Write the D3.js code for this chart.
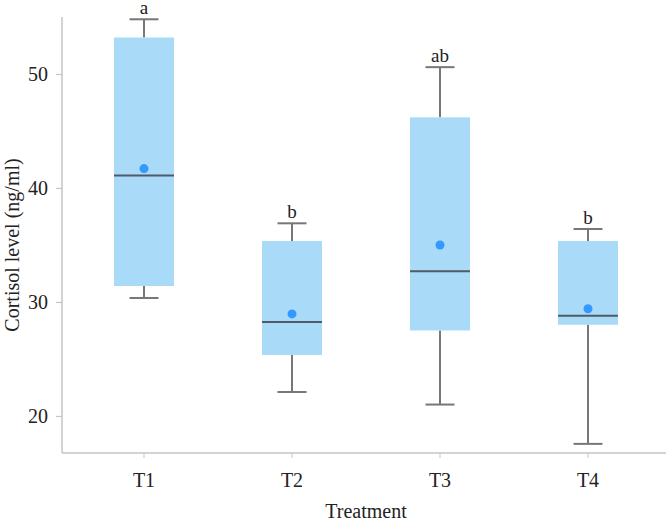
<!DOCTYPE html>
<html>
<head>
<meta charset="utf-8">
<script src="https://cdn.jsdelivr.net/npm/d3@7"></script>
<style>
  html, body { margin: 0; padding: 0; background: #fff; }
  svg { display: block; }
  text { font-family: "Liberation Serif", "Times New Roman", serif; fill: #222; }
</style>
</head>
<body>
<svg id="chart" width="666" height="521"></svg>
<script>
const categories = ["T1", "T2", "T3", "T4"];
const minVals    = [30.35, 22.1, 21.0, 17.55];
const q1Vals     = [31.4, 25.35, 27.5, 28.0];
const medianVals = [41.1, 28.25, 32.7, 28.8];
const q3Vals     = [53.2, 35.35, 46.2, 35.35];
const maxVals    = [54.8, 36.9, 50.6, 36.4];
const meanVals   = [41.7, 28.95, 35.0, 29.4];
const groupLetters = ["a", "b", "ab", "b"];
const yTicks = [20, 30, 40, 50];

const svg = d3.select("#chart");

const x = d3.scaleBand().domain(categories).range([70, 662]).paddingInner(0).paddingOuter(0);
const y = d3.scaleLinear().domain([16.75, 55]).range([453, 17]);

const boxW = 60, capW = 29;
const lineCol = "#777777";

const data = categories.map((c, i) => ({
  cat: c, min: minVals[i], q1: q1Vals[i], med: medianVals[i],
  q3: q3Vals[i], max: maxVals[i], mean: meanVals[i], letter: groupLetters[i]
}));

// Axes
const yAxis = d3.axisLeft(y).tickValues(yTicks).tickSize(6).tickPadding(8).tickFormat(d3.format("d"));
const gy = svg.append("g").attr("transform", "translate(62,0)").call(yAxis);
gy.select(".domain").remove();
gy.selectAll(".tick line").attr("stroke", "#c4c4c4").attr("stroke-width", 1.2);
gy.selectAll(".tick text").attr("font-size", 20).attr("font-family", "Liberation Serif").attr("fill", "#222");
svg.append("line").attr("x1", 62).attr("x2", 62).attr("y1", y.range()[1]).attr("y2", y.range()[0])
  .attr("stroke", "#c4c4c4").attr("stroke-width", 1.5);

const xAxis = d3.axisBottom(x).tickSize(5).tickPadding(15);
const gx = svg.append("g").attr("transform", "translate(0,453)").call(xAxis);
gx.select(".domain").remove();
gx.selectAll(".tick line").attr("stroke", "#d0d0d0").attr("stroke-width", 1.2);
gx.selectAll(".tick text").attr("font-size", 20).attr("font-family", "Liberation Serif").attr("fill", "#222");
svg.append("line").attr("x1", 62).attr("x2", 666).attr("y1", 453).attr("y2", 453)
  .attr("stroke", "#c4c4c4").attr("stroke-width", 1.5);

// Boxes
const g = svg.append("g").selectAll("g.box").data(data).join("g").attr("class", "box");
const cx = d => x(d.cat) + x.bandwidth() / 2;

g.append("line").attr("x1", cx).attr("x2", cx).attr("y1", d => y(d.max)).attr("y2", d => y(d.q3))
  .attr("stroke", lineCol).attr("stroke-width", 2);
g.append("line").attr("x1", cx).attr("x2", cx).attr("y1", d => y(d.q1)).attr("y2", d => y(d.min))
  .attr("stroke", lineCol).attr("stroke-width", 2);
g.append("line").attr("x1", d => cx(d) - capW / 2).attr("x2", d => cx(d) + capW / 2)
  .attr("y1", d => y(d.max)).attr("y2", d => y(d.max)).attr("stroke", lineCol).attr("stroke-width", 2);
g.append("line").attr("x1", d => cx(d) - capW / 2).attr("x2", d => cx(d) + capW / 2)
  .attr("y1", d => y(d.min)).attr("y2", d => y(d.min)).attr("stroke", lineCol).attr("stroke-width", 2);

g.append("rect").attr("x", d => cx(d) - boxW / 2).attr("width", boxW)
  .attr("y", d => y(d.q3)).attr("height", d => y(d.q1) - y(d.q3))
  .attr("fill", "#a9dbf8");

g.append("line").attr("x1", d => cx(d) - boxW / 2).attr("x2", d => cx(d) + boxW / 2)
  .attr("y1", d => y(d.med)).attr("y2", d => y(d.med)).attr("stroke", "#4f5b66").attr("stroke-width", 2);

g.append("circle").attr("cx", cx).attr("cy", d => y(d.mean)).attr("r", 4.5).attr("fill", "#3399ff");

g.append("text").attr("x", cx).attr("y", d => y(d.max) - 5).attr("text-anchor", "middle")
  .attr("font-size", 19).text(d => d.letter);

// Axis titles
svg.append("text").attr("x", 366).attr("y", 518).attr("text-anchor", "middle")
  .attr("font-size", 20).text("Treatment");
svg.append("text").attr("transform", "translate(19,245) rotate(-90)").attr("text-anchor", "middle")
  .attr("font-size", 20).text("Cortisol level (ng/ml)");
</script>
</body>
</html>
